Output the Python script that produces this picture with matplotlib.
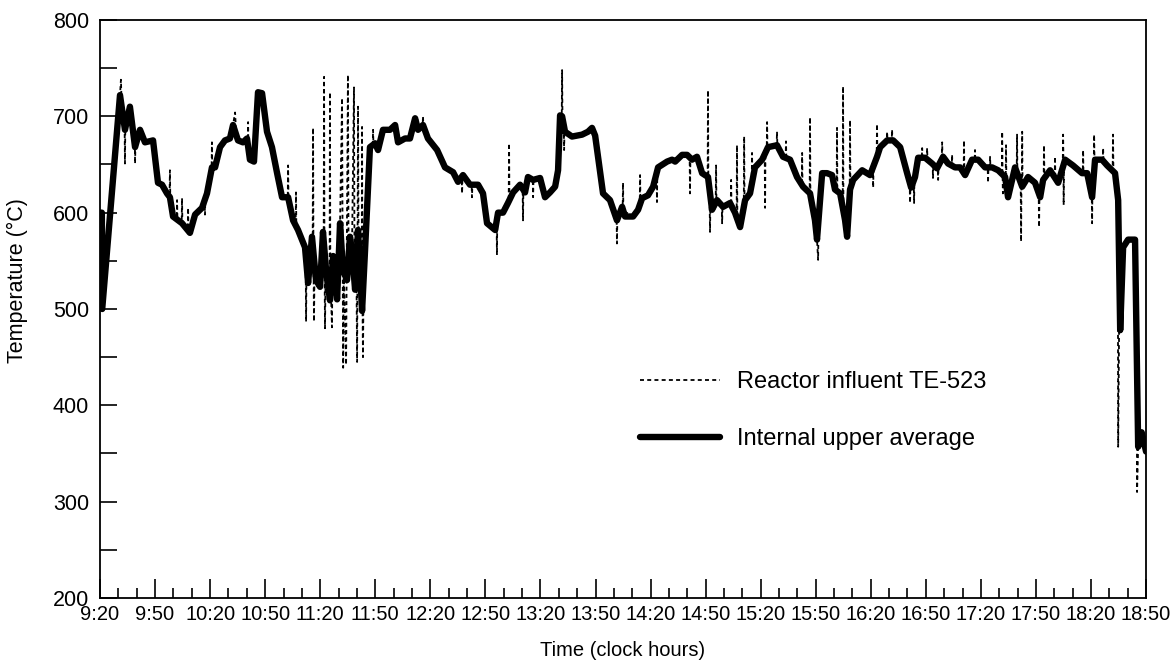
import matplotlib.pyplot as plt
import numpy as np
from matplotlib.ticker import MultipleLocator

plt.rcParams['font.family'] = ['Liberation Sans', 'DejaVu Sans']

# time in minutes after 9:20, temperature in deg C
avg_minutes = [0, 1.0, 1.2, 10.9, 13.6, 16.3, 19.1, 21.8, 24.5, 28.9, 31.6, 33.8, 36.5, 38.1, 39.8,
               44.7, 49.0, 51.8, 55.6, 58.3, 61.0, 62.7, 65.4, 68.1, 70.8, 72.5, 75.2, 77.9, 80.1,
               81.7, 83.9, 86.1, 88.3, 91.0, 93.7, 96.5, 99.2, 102.5, 105.2, 107.9, 111.7, 113.4,
               115.5, 117.7, 119.9, 121.5, 123.2, 125.3, 127.0, 129.2, 130.8, 132.4, 134.6, 136.2,
               137.3, 139.0, 140.6, 141.7, 142.8, 144.4, 147.1, 149.9, 151.5, 154.2, 158.0, 160.8,
               162.4, 166.2, 168.9, 171.7, 173.3, 176.0, 178.7, 183.7, 188.0, 192.4, 195.1, 197.8,
               201.6, 206.0, 208.7, 210.9, 215.3, 216.9, 219.6, 222.3, 225.1, 228.9, 231.6, 233.2,
               236.0, 239.8, 242.5, 245.2, 248.0, 249.6, 250.7, 251.8, 253.4, 257.2, 262.7, 265.9,
               268.1, 269.8, 274.1, 277.9, 281.7, 284.5, 286.1, 290.5, 293.2, 295.4, 298.6, 301.4,
               304.1, 309.0, 311.7, 313.4, 317.2, 319.9, 322.6, 325.3, 328.1, 331.3, 333.5, 336.2,
               339.5, 343.3, 346.0, 348.8, 351.5, 354.2, 356.9, 360.8, 364.0, 368.9, 372.2, 376.0,
               379.8, 383.1, 386.9, 389.6, 390.7, 393.5, 396.2, 398.9, 400.5, 403.3, 406.0, 407.1,
               408.7, 410.4, 415.3, 419.6, 423.4, 425.1, 428.9, 432.2, 436.0, 439.8, 442.0, 444.1,
               445.8, 449.6, 453.4, 456.1, 459.4, 462.1, 465.9, 468.7, 471.4, 475.2, 478.5, 482.3,
               486.1, 489.4, 493.2, 494.8, 498.6, 502.5, 505.7, 509.5, 512.3, 513.9, 517.7, 522.1,
               525.9, 530.2, 535.1, 537.9, 540.6, 542.2, 546.0, 548.8, 553.1, 554.8, 555.9, 557.5,
               560.2, 564.0, 565.7, 567.6, 570]
avg_temp = [600, 600, 500, 722, 686, 710, 668, 686, 673, 675, 631, 629, 620, 616, 596,
            589, 579, 598, 605, 620, 647, 647, 668, 675, 677, 691, 675, 673, 677,
            655, 653, 725, 724, 684, 668, 641, 616, 616, 592, 582, 564, 527,
            575, 530, 523, 580, 540, 509, 555, 510, 589, 540, 530, 575,
            560, 520, 582, 540, 498, 560, 668, 672, 665, 686, 686, 691,
            673, 677, 677, 698, 686, 691, 677, 665, 647, 642, 632, 639,
            629, 629, 620, 589, 582, 600, 600, 610, 621, 629, 621, 637,
            634, 636, 616, 621, 627, 644, 701, 700, 684, 679, 681, 684,
            688, 680, 620, 613, 592, 606, 596, 596, 603, 615, 618, 627,
            647, 653, 655, 653, 660, 660, 655, 658, 641, 637, 603, 613,
            606, 610, 600, 585, 613, 620, 647, 655, 668, 670, 658, 655,
            637, 627, 620, 592, 572, 641, 641, 639, 624, 620, 592, 575,
            624, 634, 644, 639, 658, 668, 675, 675, 668, 641, 626, 637,
            657, 657, 651, 646, 658, 651, 647, 647, 639, 655, 655, 647,
            647, 644, 637, 616, 647, 627, 637, 631, 616, 634, 644, 631,
            655, 649, 641, 641, 616, 655, 655, 649, 641, 613, 478, 564,
            572, 572, 357, 372, 352]

te523_minutes = [0, 1.0, 1.2, 10.9, 11.4, 11.8, 13.4, 13.6, 13.8, 16.3, 19.0, 19.1, 19.3, 21.8,
                 24.5, 28.9, 31.6, 36.5, 37.9, 38.1, 38.3, 39.8, 41.8, 42.0, 42.2, 44.5, 44.7,
                 44.9, 47.8, 48.0, 48.2, 49.0, 51.8, 55.6, 57.0, 57.2, 57.4, 60.8, 61.0, 61.2,
                 65.4, 68.1, 70.8, 72.5, 73.6, 74.2, 77.9, 80.5, 80.7, 80.9, 81.7, 83.9, 86.1,
                 88.3, 91.0, 93.7, 96.5, 99.2, 102.3, 102.5, 102.7, 105.2, 106.6, 106.8, 107.0,
                 111.7, 112.1, 112.3, 112.5, 113.4, 115.9, 116.1, 116.3, 116.6, 116.9, 119.9,
                 121.9, 122.1, 122.3, 122.6, 122.9, 125.1, 125.3, 125.5, 126.4, 126.7, 129.2,
                 130.8, 131.9, 132.2, 132.5, 132.8, 134.1, 134.4, 135.1, 135.4, 137.3, 138.4,
                 138.7, 139.8, 140.1, 140.3, 140.6, 140.9, 141.7, 142.6, 142.8, 143.0, 143.3,
                 143.6, 144.4, 147.1, 148.6, 148.8, 149.0, 151.5, 154.2, 158.0, 160.8, 162.4,
                 166.2, 168.9, 171.7, 173.3, 175.8, 176.0, 176.2, 178.7, 183.7, 188.0, 192.4,
                 195.1, 197.1, 197.3, 197.5, 201.6, 202.5, 202.7, 202.9, 206.0, 208.7, 210.9,
                 215.3, 216.1, 216.3, 216.5, 219.6, 222.3, 222.7, 222.9, 223.1, 225.1, 228.9,
                 230.3, 230.5, 230.7, 233.2, 235.8, 236.0, 236.2, 239.8, 242.5, 245.2, 248.0,
                 249.6, 250.7, 251.6, 251.8, 252.0, 252.7, 252.9, 253.1, 257.2, 262.7, 265.9,
                 268.1, 269.8, 274.1, 277.9, 281.5, 281.7, 281.9, 284.5, 284.8, 285.0, 285.2,
                 290.5, 293.2, 294.1, 294.3, 294.5, 298.6, 301.4, 303.3, 303.5, 303.7, 309.0,
                 311.7, 313.4, 317.2, 319.9, 321.3, 321.5, 321.7, 325.3, 328.1, 331.1, 331.3,
                 331.5, 332.2, 332.4, 332.6, 335.5, 335.7, 335.9, 338.8, 339.0, 339.2, 343.3,
                 343.7, 343.9, 344.1, 346.0, 346.9, 347.1, 347.3, 348.8, 350.8, 351.0, 351.2,
                 354.2, 355.1, 355.3, 355.5, 356.9, 360.8, 362.2, 362.4, 362.6, 363.3, 363.5,
                 363.7, 368.7, 368.9, 369.1, 372.2, 373.6, 373.8, 374.0, 376.0, 379.8, 382.4,
                 382.6, 382.8, 386.7, 386.9, 387.1, 389.6, 390.7, 391.3, 391.6, 393.5, 396.2,
                 398.9, 400.5, 401.4, 401.6, 401.8, 403.3, 404.7, 404.9, 405.1, 406.0, 407.1,
                 408.5, 408.7, 408.9, 410.4, 415.3, 419.6, 421.1, 421.3, 421.5, 423.2, 423.4,
                 423.6, 425.1, 428.7, 428.9, 429.1, 431.4, 431.6, 431.8, 436.0, 439.8, 441.2,
                 441.4, 441.6, 443.4, 443.6, 443.8, 445.8, 447.8, 448.0, 448.2, 450.5, 450.7,
                 450.9, 453.4, 453.7, 453.9, 454.1, 456.5, 456.7, 456.9, 458.7, 458.9, 459.1,
                 462.1, 464.1, 464.3, 464.5, 468.7, 470.6, 470.8, 471.0, 475.2, 476.6, 476.8,
                 477.0, 482.3, 483.7, 483.9, 484.1, 484.8, 485.0, 485.2, 489.4, 491.4, 491.6,
                 491.8, 492.0, 492.3, 493.5, 493.7, 493.9, 494.8, 498.6, 499.5, 499.7, 499.9,
                 501.7, 501.9, 502.1, 502.3, 502.5, 502.7, 505.7, 509.5, 511.5, 511.7, 511.9,
                 512.3, 513.9, 514.2, 514.4, 514.6, 517.7, 520.2, 520.4, 520.6, 522.1, 524.6,
                 524.8, 525.0, 525.1, 525.3, 530.2, 535.1, 535.5, 535.7, 535.9, 537.9, 540.4,
                 540.6, 540.8, 541.5, 541.7, 541.9, 546.0, 546.4, 546.6, 546.8, 548.8, 551.8,
                 552.0, 552.2, 553.1, 554.6, 554.8, 555.3, 557.5, 560.2, 564.0, 564.9, 565.1,
                 565.7, 567.6, 570]
te523_temp = [600, 600, 500, 722, 738, 712, 690, 651, 690, 710, 670, 651, 670, 686,
              673, 675, 631, 620, 618, 644, 616, 596, 593, 613, 592, 590, 615,
              589, 582, 605, 581, 579, 598, 605, 612, 598, 614, 645, 673, 647,
              668, 675, 677, 691, 704, 682, 673, 672, 694, 665, 655, 653, 725,
              724, 684, 668, 641, 616, 616, 649, 612, 592, 586, 621, 584,
              564, 540, 487, 540, 527, 575, 688, 560, 487, 540, 523,
              580, 741, 560, 480, 530, 515, 725, 540, 481, 550, 510,
              589, 719, 560, 439, 540, 442, 540, 743, 570, 560, 730,
              530, 520, 445, 560, 710, 560, 540, 520, 689, 510, 450,
              520, 560, 668, 668, 686, 670, 665, 686, 686, 691, 673,
              677, 677, 698, 686, 690, 700, 690, 677, 665, 647, 642,
              632, 637, 620, 637, 629, 629, 616, 629, 629, 620, 589,
              582, 590, 556, 598, 600, 610, 612, 672, 614, 621, 629,
              622, 592, 624, 637, 634, 616, 634, 636, 616, 621, 627,
              644, 701, 700, 748, 699, 690, 665, 686, 679, 681, 684,
              688, 680, 620, 613, 594, 568, 594, 606, 605, 631, 602,
              596, 603, 610, 639, 612, 618, 627, 640, 611, 645, 653,
              655, 653, 660, 660, 657, 620, 656, 658, 641, 635, 727,
              630, 610, 580, 608, 612, 649, 610, 607, 589, 606, 610,
              610, 634, 608, 600, 595, 670, 592, 585, 608, 679, 613,
              620, 630, 662, 634, 647, 655, 660, 605, 662, 665, 694,
              667, 670, 684, 669, 658, 657, 674, 657, 655, 637, 630,
              662, 628, 620, 699, 618, 592, 572, 551, 600, 641, 641,
              639, 624, 622, 688, 621, 620, 600, 731, 598, 592, 575,
              620, 696, 625, 634, 644, 639, 645, 626, 648, 658, 692,
              660, 668, 675, 684, 675, 675, 686, 675, 668, 641, 630,
              610, 628, 633, 610, 636, 657, 657, 667, 657, 656, 667,
              655, 651, 650, 636, 649, 647, 634, 648, 656, 673, 657,
              651, 648, 660, 648, 647, 642, 675, 641, 655, 655, 665,
              655, 647, 647, 631, 647, 647, 658, 647, 644, 640, 684,
              639, 620, 638, 634, 670, 630, 616, 647, 640, 681, 638,
              630, 570, 628, 627, 684, 628, 637, 631, 620, 585, 618,
              616, 634, 636, 670, 637, 644, 635, 658, 634, 631, 650,
              681, 652, 608, 655, 649, 641, 641, 665, 641, 641, 620,
              589, 630, 650, 681, 655, 655, 655, 667, 654, 649, 645,
              681, 644, 641, 613, 357, 478, 564, 572, 572, 450, 310,
              357, 372, 352]

hour_labels = ['9:20', '9:50', '10:20', '10:50', '11:20', '11:50', '12:20', '12:50', '13:20',
               '13:50', '14:20', '14:50', '15:20', '15:50', '16:20', '16:50', '17:20', '17:50',
               '18:20', '18:50']

fig = plt.figure(figsize=(11.71, 6.62), dpi=100)
ax = fig.add_axes([0.0854, 0.0967, 0.8933, 0.8731])

ax.plot(te523_minutes, te523_temp, color='black', lw=1.3, linestyle=(0, (2.2, 1.8)),
        label='Reactor influent TE-523')
ax.plot(avg_minutes, avg_temp, color='black', lw=4.6, solid_joinstyle='round',
        solid_capstyle='round', label='Internal upper average')

ax.set_xlim(0, 570)
ax.set_ylim(200, 800)
ax.set_xticks(np.arange(0, 571, 30))
ax.set_xticklabels(hour_labels)
ax.xaxis.set_minor_locator(MultipleLocator(10))
ax.set_yticks(np.arange(200, 801, 100))
ax.yaxis.set_minor_locator(MultipleLocator(50))

ax.tick_params(which='both', direction='in', width=1.2, colors='black')
ax.tick_params(axis='x', which='major', length=14, pad=5, labelsize=14.5)
ax.tick_params(axis='x', which='minor', length=7)
ax.tick_params(axis='y', which='both', length=12.5, pad=8, labelsize=15.5)
for s in ax.spines.values():
    s.set_linewidth(1.3)

ax.set_xlabel('Time (clock hours)', fontsize=14.5, labelpad=12)
ax.set_ylabel('Temperature (°C)', fontsize=15.5)
ax.yaxis.set_label_coords(-0.069, 0.55)

ax.legend(loc='upper left', bbox_to_anchor=(0.516, 0.393), frameon=False, fontsize=17,
          handlelength=3.4, handletextpad=0.7, labelspacing=1.5, borderpad=0, borderaxespad=0)

plt.savefig('out.png', dpi=100)
